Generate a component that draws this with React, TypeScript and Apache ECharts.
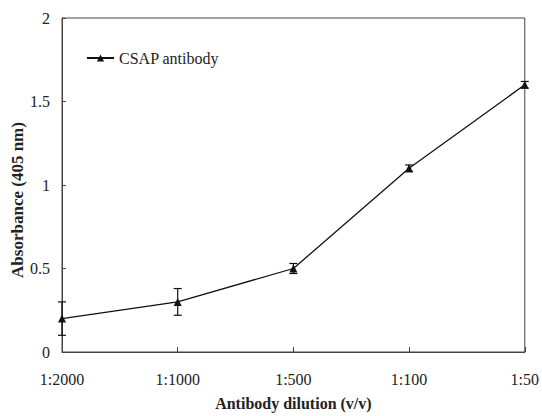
import React, { useEffect, useRef } from "react";
import * as echarts from "echarts";

const categories = ["1:2000", "1:1000", "1:500", "1:100", "1:50"];
const absorbance = [0.2, 0.3, 0.5, 1.1, 1.6];
const errors = [0.1, 0.08, 0.03, 0.02, 0.02];
const seriesName = "CSAP antibody";
const yTitle = "Absorbance (405 nm)";
const xTitle = "Antibody dilution (v/v)";

const FONT = "'Liberation Serif', 'Times New Roman', serif";

export default function App() {
  const ref = useRef<HTMLDivElement>(null);
  useEffect(() => {
    if (!ref.current) return;
    const chart = echarts.init(ref.current, null, { renderer: "svg" });
    const errData = absorbance.map((v, i) => [i, v - errors[i], v + errors[i]]);
    chart.setOption({
      animation: false,
      backgroundColor: "#fff",
      textStyle: { fontFamily: FONT },
      grid: {
        left: 62,
        right: 16,
        top: 18,
        bottom: 57,
        show: true,
        borderColor: "#444",
        borderWidth: 1,
        backgroundColor: "transparent",
      },
      legend: {
        left: 86,
        top: 50,
        padding: 0,
        itemWidth: 27,
        itemHeight: 9,
        data: [seriesName],
        textStyle: { fontFamily: FONT, fontSize: 16, color: "#222" },
      },
      graphic: [
        {
          type: "text",
          x: 17,
          y: 200,
          rotation: Math.PI / 2,
          style: {
            text: yTitle,
            fontFamily: FONT,
            fontSize: 17,
            fontWeight: "bold",
            fill: "#222",
            align: "center",
            verticalAlign: "middle",
          },
        },
      ],
      xAxis: {
        type: "category",
        data: categories,
        boundaryGap: false,
        axisLine: { lineStyle: { color: "#444", width: 1 } },
        axisTick: { inside: true, length: 5, lineStyle: { color: "#444" } },
        axisLabel: { fontFamily: FONT, fontSize: 16, color: "#222", margin: 19 },
        splitLine: { show: false },
        name: xTitle,
        nameLocation: "middle",
        nameGap: 43,
        nameTextStyle: { fontFamily: FONT, fontSize: 16, fontWeight: "bold", color: "#222" },
      },
      yAxis: {
        type: "value",
        min: 0,
        max: 2,
        interval: 0.5,
        axisLine: { show: true, lineStyle: { color: "#444", width: 1 } },
        axisTick: { show: true, inside: true, length: 4, lineStyle: { color: "#444" } },
        axisLabel: { fontFamily: FONT, fontSize: 16, color: "#222", margin: 12 },
        splitLine: { show: false },
      },
      series: [
        {
          name: seriesName,
          type: "line",
          data: absorbance,
          symbol: "triangle",
          symbolSize: 8,
          itemStyle: { color: "#111" },
          lineStyle: { color: "#111", width: 1.3 },
          z: 3,
        },
        {
          type: "custom",
          data: errData,
          z: 4,
          renderItem: (params: any, api: any) => {
            const x = api.value(0);
            const lo = api.coord([x, api.value(1)]);
            const hi = api.coord([x, api.value(2)]);
            const w = 4;
            const style = { stroke: "#111", lineWidth: 1.2 };
            return {
              type: "group",
              children: [
                { type: "line", shape: { x1: hi[0], y1: hi[1], x2: lo[0], y2: lo[1] }, style },
                { type: "line", shape: { x1: hi[0] - w, y1: hi[1], x2: hi[0] + w, y2: hi[1] }, style },
                { type: "line", shape: { x1: lo[0] - w, y1: lo[1], x2: lo[0] + w, y2: lo[1] }, style },
              ],
            };
          },
        },
      ],
    });
    return () => chart.dispose();
  }, []);
  return <div ref={ref} style={{ width: 542, height: 416, position: "absolute", left: 0, top: 0 }} />;
}
